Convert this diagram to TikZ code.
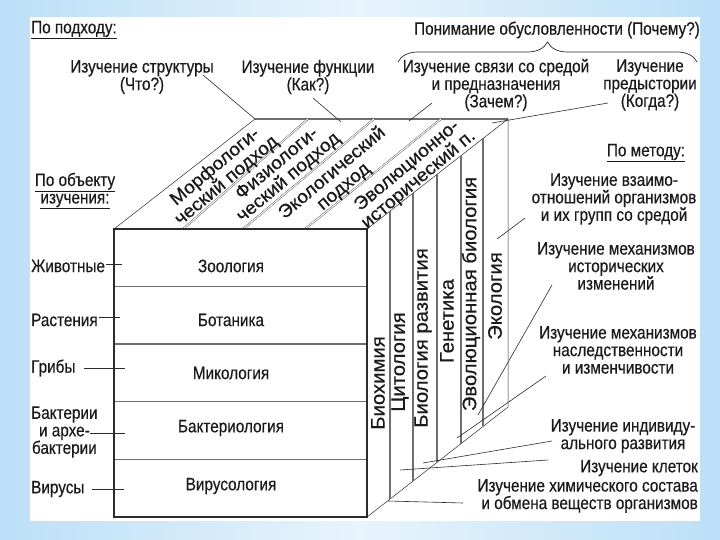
\documentclass[tikz,border=0pt]{standalone}
\usepackage{fontspec}
\setmainfont{Liberation Sans}[FakeStretch=0.85,FakeBold=0.4]
\newfontfamily\facefont{Liberation Sans}[FakeStretch=1.04,FakeBold=0.4]
\usepackage{xcolor}
\definecolor{cInk}{HTML}{1A1A1A}
\definecolor{cLine}{HTML}{2B2B2B}
\definecolor{cRule}{HTML}{6E6E6E}
\definecolor{cBg}{HTML}{BCDFF7}
\usepackage{tikz}
\usetikzlibrary{calc,decorations.pathreplacing}
\tikzset{
  edge-thick/.style={draw=cLine,line width=1.3pt},
  edge-thin/.style={draw=cLine,line width=0.5pt},
  row-line/.style={draw=cRule,line width=1.4pt},
  col-line/.style={draw=cRule,line width=1.5pt},
  band-line/.style={draw=cLine,line width=0.35pt,double=white,double distance=1.1pt},
  leader/.style={draw=cLine,line width=0.6pt},
  brace-line/.style={draw=cLine,line width=0.7pt,decorate,
    decoration={brace,amplitude=20pt}},
  lbl/.style={text=cInk,inner sep=1pt,align=center,
    font=\fontsize{18}{17.5}\selectfont},
  lbl-face/.style={text=cInk,inner sep=0pt,align=center,rotate=40,
    font=\facefont\fontsize{18.5}{18}\selectfont},
  lbl-col/.style={text=cInk,inner sep=0pt,rotate=90,
    font=\facefont\fontsize{19.5}{20}\selectfont},
}

\begin{document}
\begin{tikzpicture}[x=1pt,y=-1pt]
  \useasboundingbox (0,0) rectangle (720,540);
  \shade[left color=cBg,right color=cBg,middle color=cBg!35] (0,0) rectangle (720,540);
  \fill[white] (30,17) rectangle (700,521);

  % cube corners
  \coordinate (fTL) at (114,229);
  \coordinate (fTR) at (367,229);
  \coordinate (fBL) at (114,517);
  \coordinate (fBR) at (367,517);
  \coordinate (bTL) at (255,119);
  \coordinate (bTR) at (508,119);
  \coordinate (bBR) at (508,407);

  % top and right faces
  \draw[edge-thin] (fTL) -- (bTL);
  \draw[edge-thick,draw=cRule] (bTL) -- (bTR);
  \draw[edge-thin] (fTR) -- (bTR) -- (bBR) -- (fBR);
  \foreach \f/\b in {0.273/0.209,0.510/0.470,0.755/0.735}
    \draw[band-line] ($(fTL)!\f!(fTR)$) -- ($(bTL)!\b!(bTR)$);
  \foreach \t in {0.163,0.326,0.496,0.667,0.823}
    \draw[col-line] ($(fTR)!\t!(bTR)$) -- ($(fBR)!\t!(bBR)$);

  % front face
  \foreach \r in {1,...,4}
    \draw[row-line] ($(fTL)!\r/5!(fBL)$) -- ($(fTR)!\r/5!(fBR)$);
  \draw[edge-thick] (fTL) rectangle (fBR);

  % headings
  \node[lbl,anchor=west] (hApproach) at (30,30) {\underline{По подходу:}};
  \node[lbl] (hObject) at (75,191) {\underline{По объекту}\\\underline{изучения:}};
  \node[lbl] (hMethod) at (646,153) {\underline{По методу:}};
  \node[lbl] (whyHead) at (557,30) {Понимание обусловленности (Почему?)};
  \coordinate (brL) at (398,62);
  \coordinate (brR) at (697,62);
  \draw[brace-line] (brL) -- (brR);

  % questions
  \node[lbl] (whatStruct) at (142,77) {Изучение структуры\\(Что?)};
  \node[lbl] (whatFunc) at (308,77) {Изучение функции\\(Как?)};
  \node[lbl] (whatEnv) at (496,85) {Изучение связи со средой\\и предназначения\\(Зачем?)};
  \node[lbl] (whatPast) at (650,85) {Изучение\\предыстории\\(Когда?)};

  % approaches on the top face
  \node[lbl-face] (appMorph) at (221,174) {Морфологи-\\ческий подход};
  \node[lbl-face] (appPhys) at (283,171) {Физиологи-\\ческий подход};
  \node[lbl-face] (appEco) at (338,180) {Экологический\\подход};
  \node[lbl-face] (appEvo) at (413,173) {Эволюционно-\\исторический п.};

  % sciences on the front face
  \node[lbl] (sciZoo) at (231,266) {Зоология};
  \node[lbl] (sciBot) at (231,320) {Ботаника};
  \node[lbl] (sciMyc) at (231,373) {Микология};
  \node[lbl] (sciBact) at (231,428) {Бактериология};
  \node[lbl] (sciVir) at (231,486) {Вирусология};

  % sciences on the right face
  \node[lbl-col] (colBio) at (378,383) {Биохимия};
  \node[lbl-col] (colCyt) at (400,362) {Цитология};
  \node[lbl-col] (colDev) at (423,338) {Биология развития};
  \node[lbl-col] (colGen) at (447,321) {Генетика};
  \node[lbl-col] (colEvo) at (471,294) {Эволюционная биология};
  \node[lbl-col] (colEco) at (495,296) {Экология};

  % objects
  \node[lbl,anchor=west] (objAnimal) at (30,266) {Животные};
  \node[lbl,anchor=west] (objPlant) at (30,320) {Растения};
  \node[lbl,anchor=west] (objFungi) at (30,368) {Грибы};
  \node[lbl,anchor=west] (objBact) at (30,432) {Бактерии\\и архе-\\бактерии};
  \node[lbl,anchor=west] (objVirus) at (30,489) {Вирусы};

  % methods
  \node[lbl] (mInter) at (614,199) {Изучение взаимо-\\отношений организмов\\и их групп со средой};
  \node[lbl] (mHist) at (616,266) {Изучение механизмов\\исторических\\изменений};
  \node[lbl] (mHered) at (618,350) {Изучение механизмов\\наследственности\\и изменчивости};
  \node[lbl] (mIndiv) at (623,436) {Изучение индивиду-\\ального развития};
  \node[lbl,anchor=east] (mCell) at (699,468) {Изучение клеток};
  \node[lbl,align=right,anchor=east] (mChem) at (699,496) {Изучение химического состава\\и обмена веществ организмов};

  % leader ends
  \coordinate (pAnimal) at (122,264);
  \coordinate (pPlant) at (120,317);
  \coordinate (pFungi) at (125,368);
  \coordinate (pBact) at (125,433);
  \coordinate (pVirus) at (124,489);
  \coordinate (qStruct) at (203,75);
  \coordinate (qFunc) at (313,98);   \coordinate (pFunc) at (341,122);
  \coordinate (qEnv) at (432,103);   \coordinate (pEnv) at (409,121);
  \coordinate (qPast) at (608,103);  \coordinate (pPast) at (492,123);
  \coordinate (qInter) at (525,218); \coordinate (pInter) at (497,239);
  \coordinate (qHist) at (552,285);  \coordinate (pHist) at (478,415);
  \coordinate (qHered) at (546,376); \coordinate (pHered) at (457,438);
  \coordinate (qIndiv) at (552,441); \coordinate (pIndiv) at (423,463);
  \coordinate (qCell) at (548,460);  \coordinate (pCell) at (400,470);
  \coordinate (qChem) at (463,503);  \coordinate (pChem) at (388,501);

  % leaders
  \draw[leader] (objAnimal.east |- pAnimal) -- (pAnimal);
  \draw[leader] (objPlant.east |- pPlant) -- (pPlant);
  \draw[leader,shorten <=7pt] (objFungi.east |- pFungi) -- (pFungi);
  \draw[leader,shorten <=-9pt] (objBact.east |- pBact) -- (pBact);
  \draw[leader,shorten <=6pt] (objVirus.east |- pVirus) -- (pVirus);
  \draw[leader] (qStruct) -- (bTL);
  \draw[leader] (qFunc) -- (pFunc);
  \draw[leader] (qEnv) -- (pEnv);
  \draw[leader] (qPast) -- (pPast);
  \draw[leader] (qInter) -- (pInter);
  \draw[leader] (qHist) -- (pHist);
  \draw[leader] (qHered) -- (pHered);
  \draw[leader] (qIndiv) -- (pIndiv);
  \draw[leader] (qCell) -- (pCell);
  \draw[leader] (qChem) -- (pChem);
\end{tikzpicture}
\end{document}
